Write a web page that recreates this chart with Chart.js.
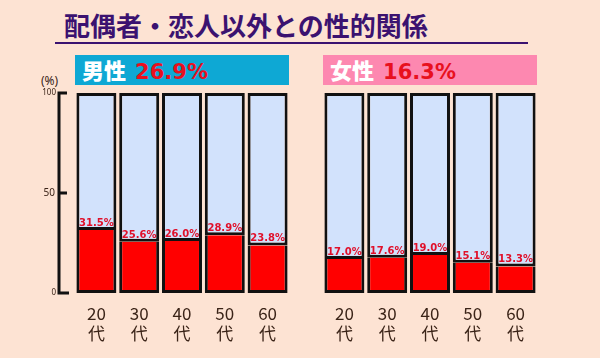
<!DOCTYPE html>
<html>
<head>
<meta charset="utf-8">
<script src="https://cdn.jsdelivr.net/npm/chart.js@4"></script>
<style>
body { margin: 0; background: #fde3d3; }
#wrap { position: relative; width: 600px; height: 358px; overflow: hidden; background: #fde3d3; font-family: "Noto Sans CJK JP", "Noto Sans", sans-serif; }
#title { position: absolute; left: 64px; top: 7px; font-size: 26px; font-weight: 700; color: #3b1270; white-space: nowrap; line-height: 36px; }
#rule { position: absolute; left: 55px; top: 42px; width: 473px; height: 2px; background: #3b1270; }
.head { position: absolute; top: 55px; width: 214px; height: 30px; line-height: 28px; font-size: 22px; font-weight: 900; white-space: nowrap; }
.head span.k { color: #fff; padding-left: 7px; }
.head span.v { color: #e8101e; font-family: "DejaVu Sans", sans-serif; font-weight: 700; font-size: 21px; margin-left: 4px; }
#male-head { left: 75px; background: #0ea8d4; }
#female-head { left: 323px; background: #fd88b0; }
#unit { position: absolute; left: 41px; top: 72px; font-size: 12px; color: #3b2418; font-family: "Noto Sans", sans-serif; }
canvas { position: absolute; top: 0; }
#chart-male { left: 0; }
#chart-female { left: 300px; }
</style>
</head>
<body>
<div id="wrap">
  <div id="title">配偶者・恋人以外との性的関係</div>
  <div id="rule"></div>
  <div class="head" id="male-head"><span class="k">男性</span> <span class="v" id="male-total"></span></div>
  <div class="head" id="female-head"><span class="k">女性</span> <span class="v" id="female-total"></span></div>
  <div id="unit">(%)</div>
  <canvas id="chart-male" width="300" height="358"></canvas>
  <canvas id="chart-female" width="300" height="358"></canvas>
</div>
<script>
var ageLabels = [['20', '代'], ['30', '代'], ['40', '代'], ['50', '代'], ['60', '代']];
var maleValues = [31.5, 25.6, 26.0, 28.9, 23.8];
var femaleValues = [17.0, 17.6, 19.0, 15.1, 13.3];
var maleTotal = 26.9;
var femaleTotal = 16.3;
var yTicks = [0, 50, 100];

document.getElementById("male-total").innerHTML = maleTotal.toFixed(1) + '%';
document.getElementById("female-total").innerHTML = femaleTotal.toFixed(1) + '%';

// red % labels sitting on top of the red part
var valueLabels = {
    id: 'valueLabels',
    afterDatasetsDraw: function(chart) {
        var ctx = chart.ctx;
        var meta = chart.getDatasetMeta(0);
        ctx.save();
        ctx.fillStyle = '#e0102a';
        ctx.font = 'bold 10px "DejaVu Sans"';
        ctx.textAlign = 'center';
        ctx.textBaseline = 'alphabetic';
        meta.data.forEach(function(bar, i) {
            var v = chart.data.datasets[0].data[i];
            ctx.fillText(v.toFixed(1) + '%', bar.x, bar.y - 4);
        });
        ctx.restore();
    }
};

// bracket shaped y axis on the left chart only
var bracketAxis = {
    id: 'bracketAxis',
    afterDraw: function(chart) {
        var y = chart.scales.y;
        var ctx = chart.ctx;
        var x0 = 59;
        var top = y.getPixelForValue(100);
        var bottom = y.getPixelForValue(0);
        ctx.save();
        ctx.strokeStyle = '#111';
        ctx.lineWidth = 3;
        ctx.beginPath();
        ctx.moveTo(67, top);
        ctx.lineTo(x0, top);
        ctx.lineTo(x0, bottom);
        ctx.lineTo(69, bottom);
        ctx.stroke();
        ctx.fillStyle = '#3b2418';
        ctx.textAlign = 'right';
        ctx.textBaseline = 'middle';
        yTicks.forEach(function(t) {
            var py = y.getPixelForValue(t);
            if (t != 0 && t != 100) {
                ctx.beginPath();
                ctx.moveTo(x0, py);
                ctx.lineTo(67, py);
                ctx.stroke();
            }
            ctx.font = (t == 50 ? '10px' : '8px') + ' "Noto Sans"';
            ctx.fillText(String(t), t == 50 ? 55 : 56, py);
        });
        ctx.restore();
    }
};

function makeChart(id, values, padLeft, padRight, plugins) {
    var rest = values.map(function(v) { return Math.round((100 - v) * 10) / 10; });
    return new Chart(document.getElementById(id), {
        type: 'bar',
        data: {
            labels: ageLabels,
            datasets: [{
                data: values,
                backgroundColor: '#ff0000',
                borderColor: '#111',
                borderWidth: 3,
                borderSkipped: 'end',
                barPercentage: 0.934,
                categoryPercentage: 1
            }, {
                data: rest,
                backgroundColor: '#d2e2fc',
                borderColor: '#111',
                borderWidth: 3,
                borderSkipped: false,
                barPercentage: 0.934,
                categoryPercentage: 1
            }]
        },
        options: {
            responsive: false,
            animation: false,
            events: [],
            layout: { padding: { left: padLeft, right: padRight, top: 93, bottom: 5 } },
            plugins: {
                legend: { display: false },
                tooltip: { enabled: false }
            },
            scales: {
                x: {
                    stacked: true,
                    grid: { display: false, drawTicks: false },
                    border: { display: false },
                    ticks: {
                        color: '#3b2418',
                        padding: 10,
                        font: { size: 17, family: '"Noto Sans CJK JP"', lineHeight: 1.2 }
                    },
                    afterFit: function(s) { s.height = 60; }
                },
                y: {
                    stacked: true,
                    display: false,
                    min: 0,
                    max: 100
                }
            }
        },
        plugins: plugins
    });
}

makeChart('chart-male', maleValues, 75, 11, [valueLabels, bracketAxis]);
makeChart('chart-female', femaleValues, 23, 63, [valueLabels]);
</script>
</body>
</html>
